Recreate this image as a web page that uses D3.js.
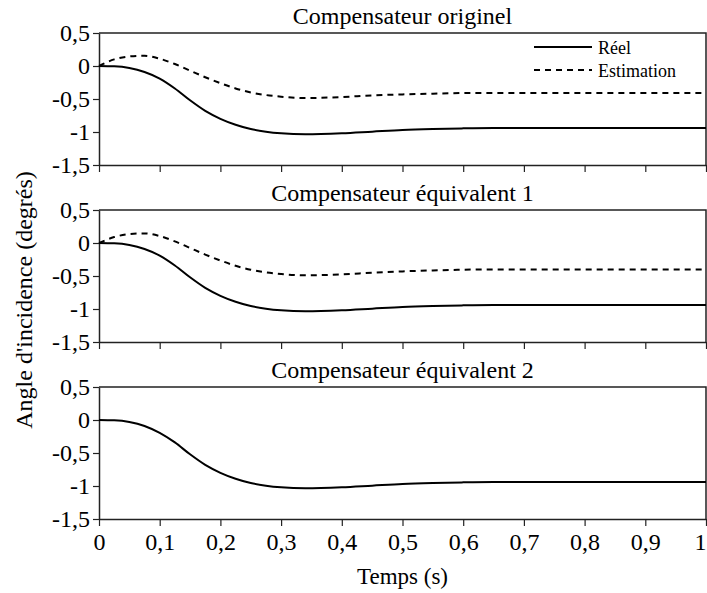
<!DOCTYPE html>
<html>
<head>
<meta charset="utf-8">
<script src="https://cdn.jsdelivr.net/npm/d3@7"></script>
<style>
  body { margin: 0; background: #fff; }
  svg text { font-family: "Liberation Serif", "DejaVu Serif", serif; fill: #000; }
</style>
</head>
<body>
<div id="chart"></div>
<script>
// Time samples (s)
const time = [0, 0.025, 0.05, 0.075, 0.1, 0.125, 0.15, 0.175, 0.2, 0.225, 0.25, 0.275, 0.3,
              0.34, 0.4, 0.45, 0.5, 0.55, 0.6, 0.65, 0.7, 0.8, 0.9, 1.0];

// Compensateur originel
const reelOriginel = [0, -0.005, -0.03, -0.09, -0.19, -0.34, -0.52, -0.68, -0.80, -0.89, -0.955, -0.995, -1.02,
                      -1.035, -1.02, -0.995, -0.97, -0.955, -0.945, -0.94, -0.94, -0.94, -0.94, -0.94];
const estimOriginel = [0, 0.10, 0.145, 0.155, 0.11, 0.03, -0.07, -0.17, -0.26, -0.34, -0.40, -0.44, -0.465,
                       -0.485, -0.47, -0.445, -0.43, -0.42, -0.41, -0.41, -0.41, -0.41, -0.41, -0.41];

// Compensateur equivalent 1
const reelEquiv1 = [0, -0.005, -0.03, -0.09, -0.19, -0.34, -0.52, -0.68, -0.80, -0.89, -0.955, -0.995, -1.02,
                    -1.035, -1.02, -0.995, -0.97, -0.955, -0.945, -0.94, -0.94, -0.94, -0.94, -0.94];
const estimEquiv1 = [0, 0.09, 0.135, 0.145, 0.105, 0.025, -0.075, -0.175, -0.265, -0.345, -0.405, -0.445, -0.47,
                     -0.49, -0.475, -0.45, -0.43, -0.415, -0.405, -0.40, -0.40, -0.40, -0.40, -0.40];

// Compensateur equivalent 2
const reelEquiv2 = [0, -0.005, -0.03, -0.09, -0.195, -0.34, -0.52, -0.68, -0.80, -0.89, -0.955, -0.995, -1.02,
                    -1.035, -1.02, -0.995, -0.97, -0.955, -0.945, -0.94, -0.94, -0.94, -0.94, -0.94];

const panelTitles = ["Compensateur originel", "Compensateur équivalent 1", "Compensateur équivalent 2"];
const panelSeries = [
  [reelOriginel, estimOriginel],
  [reelEquiv1, estimEquiv1],
  [reelEquiv2]
];
const seriesNames = ["Réel", "Estimation"];
const xTicks = [0, 0.1, 0.2, 0.3, 0.4, 0.5, 0.6, 0.7, 0.8, 0.9, 1];
const yTicks = [-1.5, -1, -0.5, 0, 0.5];

const W = 707, H = 593;
const margin = {left: 99, right: 1, top: 33};
const panelH = 132, panelStep = 177;
const width = W - margin.left - margin.right;
const serif = "'Liberation Serif', 'DejaVu Serif', serif";

const svg = d3.select("#chart").append("svg")
    .attr("width", W)
    .attr("height", H)
    .attr("font-family", serif);

const x = d3.scaleLinear().domain([0, 1]).range([0, width]);
const y = d3.scaleLinear().domain([-1.5, 0.5]).range([panelH, 0]);
const fmt = d => String(d).replace(".", ",");

const dashes = [null, "6,5"];

const line = d3.line()
    .curve(d3.curveMonotoneX)
    .x((d, i) => x(time[i]))
    .y(d => y(d));

panelSeries.forEach((series, p) => {
  const g = svg.append("g")
      .attr("transform", `translate(${margin.left},${margin.top + p * panelStep})`);

  // Frame: top and right borders
  g.append("path")
      .attr("d", `M0,0H${width}V${panelH}`)
      .attr("fill", "none")
      .attr("stroke", "#222")
      .attr("stroke-width", 1.5);

  // Axes
  const yAx = g.append("g")
      .call(d3.axisLeft(y).tickValues(yTicks).tickFormat(fmt).tickSize(6).tickSizeOuter(0));
  const xAx = g.append("g")
      .attr("transform", `translate(0,${panelH})`)
      .call(d3.axisBottom(x).tickValues(xTicks).tickFormat(p === 2 ? fmt : "").tickSize(7).tickSizeOuter(0));

  [yAx, xAx].forEach(a => {
    a.attr("font-family", serif).attr("font-size", 24);
    a.select(".domain").attr("stroke", "#222").attr("stroke-width", 1.5);
    a.selectAll(".tick line").attr("stroke", "#222").attr("stroke-width", 1.2);
    a.selectAll("text").attr("fill", "#000");
  });
  yAx.selectAll("text").attr("x", -9);
  xAx.selectAll("text").attr("y", 14);
  // keep the last label inside the page
  xAx.selectAll(".tick text").filter(d => d === 1).attr("text-anchor", "end").attr("dx", 0);

  // Title
  g.append("text")
      .attr("x", width / 2)
      .attr("y", -9)
      .attr("text-anchor", "middle")
      .attr("font-size", 24)
      .text(panelTitles[p]);

  // Curves
  series.forEach((vals, s) => {
    g.append("path")
        .datum(vals)
        .attr("fill", "none")
        .attr("stroke", "#000")
        .attr("stroke-width", 2)
        .attr("stroke-dasharray", dashes[s])
        .attr("d", line);
  });

  // Legend in the first panel
  if (p === 0) {
    const legend = g.append("g").attr("transform", `translate(${width - 172},14)`);
    seriesNames.forEach((name, i) => {
      legend.append("line")
          .attr("x1", 0).attr("x2", 58)
          .attr("y1", i * 23).attr("y2", i * 23)
          .attr("stroke", "#000")
          .attr("stroke-width", 2)
          .attr("stroke-dasharray", dashes[i]);
      legend.append("text")
          .attr("x", 64)
          .attr("y", i * 23 + 7)
          .attr("font-size", 18)
          .text(name);
    });
  }
});

// Axis labels
svg.append("text")
    .attr("x", margin.left + width / 2)
    .attr("y", 584)
    .attr("text-anchor", "middle")
    .attr("font-size", 23)
    .text("Temps (s)");

svg.append("text")
    .attr("transform", "rotate(-90)")
    .attr("x", -300)
    .attr("y", 32)
    .attr("text-anchor", "middle")
    .attr("font-size", 24)
    .text("Angle d'incidence (degrés)");
</script>
</body>
</html>
